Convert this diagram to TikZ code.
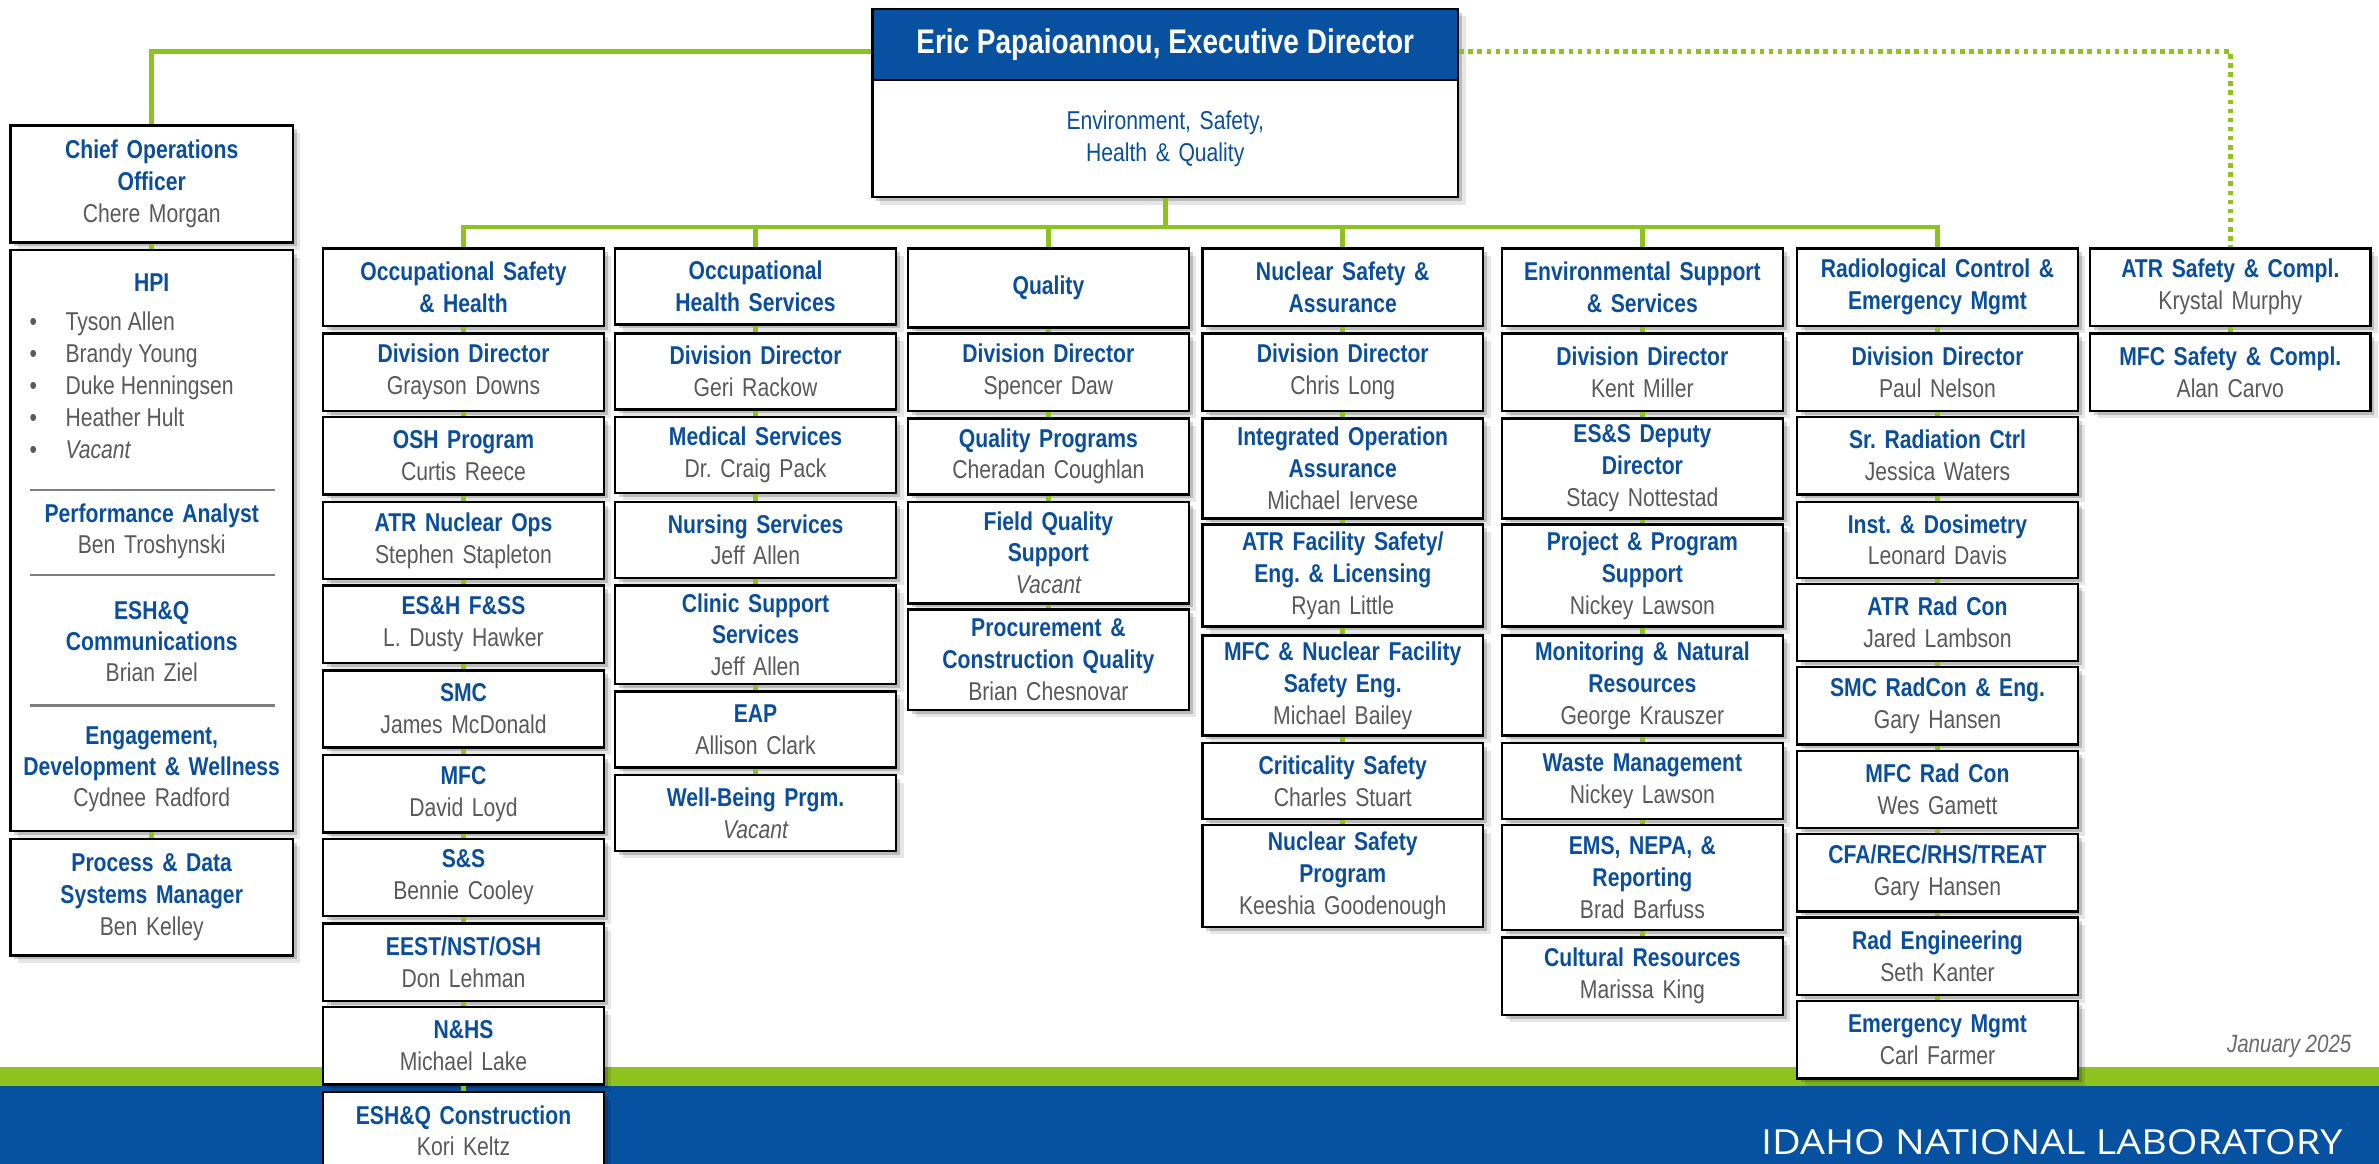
\documentclass[tikz,border=0pt]{standalone}
\usepackage{fontspec}
\setmainfont{Liberation Sans}[FakeStretch=0.82]
\newfontfamily\inlfont{Open Sans}
\usetikzlibrary{calc,shadows}
\definecolor{inlblue}{HTML}{0B4F9C}
\definecolor{hdrblue}{HTML}{0851A0}
\definecolor{ftblue}{HTML}{0752A0}
\definecolor{inlgreen}{HTML}{8DC21F}
\definecolor{txtgray}{HTML}{595959}
\definecolor{rulegray}{HTML}{7F7F7F}
\newcommand\ti[1]{{\bfseries\color{inlblue}#1}}
\newcommand\nm[1]{{\color{txtgray}#1}}
\frenchspacing
\begin{document}
\begin{tikzpicture}[x=1pt,y=-1pt,
  shadowed/.style={drop shadow={shadow xshift=5pt,shadow yshift=-5pt,opacity=.10,fill=black},
                   drop shadow={shadow xshift=2.5pt,shadow yshift=-2.5pt,opacity=.18,fill=black}},
  box/.style={draw=black,line width=1.6pt,fill=white,anchor=north,text width=181pt,
              inner xsep=2pt,inner ysep=1pt,align=center,font=\fontsize{17}{21}\selectfont\frenchspacing,shadowed},
  lbox/.style={box,text width=182pt},
  conn/.style={draw=inlgreen,line width=3pt},
  dotconn/.style={draw=inlgreen,line width=3pt,dash pattern=on 3pt off 3pt},
  hpitext/.style={inner sep=0pt,text width=182pt,align=center,font=\fontsize{17}{20.5}\selectfont},
  bullettext/.style={inner sep=0pt,font=\fontsize{17}{20.5}\selectfont,text=txtgray},
  sepline/.style={draw=rulegray,line width=1.5pt}]
\useasboundingbox (0,0) rectangle (1568,767);
\begin{scope}
\clip (0,0) rectangle (1568,767);
\fill[white] (0,0) rectangle (1568,767);
% footer
\fill[inlgreen] (0,703) rectangle (1568,716);
\fill[ftblue] (0,716) rectangle (1568,767);
\node[anchor=base east,inner sep=0pt,text=white] (inl) at (1544,761)
  {\resizebox{383pt}{16.5pt}{\inlfont IDAHO NATIONAL LABORATORY}};
\node[anchor=base east,inner sep=0pt,text=txtgray!90,font=\fontsize{16.5}{20}\selectfont\itshape] (date) at (1550,694) {January 2025};

% executive
\node[draw=black,line width=1.6pt,fill=hdrblue,anchor=north,minimum width=386pt,minimum height=47pt,
      inner sep=0pt,text=white,font=\fontsize{22.5}{26}\selectfont\bfseries,shadowed] (erich) at (768,5)
  {Eric Papaioannou, Executive Director};
\node[box,text width=382pt,minimum height=77pt] (eric) at (768,52)
  {{\color{inlblue}Environment, Safety,\\Health \& Quality}};

% left column
\node[lbox,minimum height=77pt] (coo) at (100,82) {\ti{Chief Operations\\Officer}\\\nm{Chere Morgan}};
\node[lbox,minimum height=383pt] (hpi) at (100,164) {};
\node[lbox,minimum height=77pt] (pds) at (100,552) {\ti{Process \& Data\\Systems Manager}\\\nm{Ben Kelley}};

\node[hpitext] (hpit) at (100,186) {\ti{HPI}};
\foreach \n/\yy/\t in {1/218/Tyson Allen,2/239/Brandy Young,3/260/Duke Henningsen,4/281/Heather Hult,5/302/\itshape Vacant}{
  \node[bullettext,anchor=base] (hd\n) at (22,\yy) {\textbullet};
  \node[bullettext,anchor=base west] (hb\n) at (43,\yy) {\t};
}
\draw[sepline] (20,323) -- (181,323);
\node[hpitext] (perf) at (100,350) {\ti{Performance Analyst}\\\nm{Ben Troshynski}};
\draw[sepline] (20,379) -- (181,379);
\node[hpitext] (comm) at (100,423) {\ti{ESH\&Q\\Communications}\\\nm{Brian Ziel}};
\draw[sepline] (20,465) -- (181,465);
\node[hpitext] (engd) at (100,507) {\ti{Engagement,\\Development \& Wellness}\\\nm{Cydnee Radford}};

% column 1
\node[box,minimum height=51pt] (h1) at (305.5,163) {\ti{Occupational Safety\\\& Health}};
\node[box,minimum height=51pt] (c1a) at (305.5,219) {\ti{Division Director}\\\nm{Grayson Downs}};
\node[box,minimum height=51pt] (c1b) at (305.5,274) {\ti{OSH Program}\\\nm{Curtis Reece}};
\node[box,minimum height=51pt] (c1c) at (305.5,330) {\ti{ATR Nuclear Ops}\\\nm{Stephen Stapleton}};
\node[box,minimum height=51pt] (c1d) at (305.5,385) {\ti{ES\&H F\&SS}\\\nm{L. Dusty Hawker}};
\node[box,minimum height=51pt] (c1e) at (305.5,441) {\ti{SMC}\\\nm{James McDonald}};
\node[box,minimum height=51pt] (c1f) at (305.5,497) {\ti{MFC}\\\nm{David Loyd}};
\node[box,minimum height=51pt] (c1g) at (305.5,552) {\ti{S\&S}\\\nm{Bennie Cooley}};
\node[box,minimum height=51pt] (c1h) at (305.5,608) {\ti{EEST/NST/OSH}\\\nm{Don Lehman}};
\node[box,minimum height=51pt] (c1i) at (305.5,663) {\ti{N\&HS}\\\nm{Michael Lake}};
\node[box,minimum height=51pt] (c1j) at (305.5,719) {\ti{ESH\&Q Construction}\\\nm{Kori Keltz}};

% column 2
\node[box,minimum height=50pt] (h2) at (498,163) {\ti{Occupational\\Health Services}};
\node[box,minimum height=50pt] (c2a) at (498,219) {\ti{Division Director}\\\nm{Geri Rackow}};
\node[box,minimum height=50pt] (c2b) at (498,274) {\ti{Medical Services}\\\nm{Dr. Craig Pack}};
\node[box,minimum height=50pt] (c2c) at (498,330) {\ti{Nursing Services}\\\nm{Jeff Allen}};
\node[box,minimum height=65pt] (c2d) at (498,385) {\ti{Clinic Support\\Services}\\\nm{Jeff Allen}};
\node[box,minimum height=50pt] (c2e) at (498,455) {\ti{EAP}\\\nm{Allison Clark}};
\node[box,minimum height=50pt] (c2f) at (498,510) {\ti{Well-Being Prgm.}\\\nm{\itshape Vacant}};

% column 3
\node[box,minimum height=52pt] (h3) at (691,163) {\ti{Quality}};
\node[box,minimum height=51pt] (c3a) at (691,219) {\ti{Division Director}\\\nm{Spencer Daw}};
\node[box,minimum height=50pt] (c3b) at (691,275) {\ti{Quality Programs}\\\nm{Cheradan Coughlan}};
\node[box,minimum height=67pt] (c3c) at (691,330) {\ti{Field Quality\\Support}\\\nm{\itshape Vacant}};
\node[box,minimum height=66pt] (c3d) at (691,401) {\ti{Procurement \&\\Construction Quality}\\\nm{Brian Chesnovar}};

% column 4
\node[box,minimum height=51pt] (h4) at (885,163) {\ti{Nuclear Safety \&\\Assurance}};
\node[box,minimum height=51pt] (c4a) at (885,219) {\ti{Division Director}\\\nm{Chris Long}};
\node[box,minimum height=66pt] (c4b) at (885,275) {\ti{Integrated Operation\\Assurance}\\\nm{Michael Iervese}};
\node[box,minimum height=67pt] (c4c) at (885,345) {\ti{ATR Facility Safety/\\Eng. \& Licensing}\\\nm{Ryan Little}};
\node[box,minimum height=66pt] (c4d) at (885,418) {\ti{MFC \& Nuclear Facility\\Safety Eng.}\\\nm{Michael Bailey}};
\node[box,minimum height=50pt] (c4e) at (885,489) {\ti{Criticality Safety}\\\nm{Charles Stuart}};
\node[box,minimum height=67pt] (c4f) at (885,543) {\ti{Nuclear Safety\\Program}\\\nm{Keeshia Goodenough}};

% column 5
\node[box,minimum height=51pt] (h5) at (1082.5,163) {\ti{Environmental Support\\\& Services}};
\node[box,minimum height=51pt] (c5a) at (1082.5,219) {\ti{Division Director}\\\nm{Kent Miller}};
\node[box,minimum height=66pt] (c5b) at (1082.5,275) {\ti{ES\&S Deputy\\Director}\\\nm{Stacy Nottestad}};
\node[box,minimum height=67pt] (c5c) at (1082.5,345) {\ti{Project \& Program\\Support}\\\nm{Nickey Lawson}};
\node[box,minimum height=66pt] (c5d) at (1082.5,418) {\ti{Monitoring \& Natural\\Resources}\\\nm{George Krauszer}};
\node[box,minimum height=50pt] (c5e) at (1082.5,489) {\ti{Waste Management}\\\nm{Nickey Lawson}};
\node[box,minimum height=69pt] (c5f) at (1082.5,543) {\ti{EMS, NEPA, \&\\Reporting}\\\nm{Brad Barfuss}};
\node[box,minimum height=51pt] (c5g) at (1082.5,617) {\ti{Cultural Resources}\\\nm{Marissa King}};

% column 6
\node[box,minimum height=51pt] (h6) at (1277,163) {\ti{Radiological Control \&\\Emergency Mgmt}};
\node[box,minimum height=51pt] (c6a) at (1277,219) {\ti{Division Director}\\\nm{Paul Nelson}};
\node[box,minimum height=51pt] (c6b) at (1277,274) {\ti{Sr. Radiation Ctrl}\\\nm{Jessica Waters}};
\node[box,minimum height=50pt] (c6c) at (1277,330) {\ti{Inst. \& Dosimetry}\\\nm{Leonard Davis}};
\node[box,minimum height=51pt] (c6d) at (1277,384) {\ti{ATR Rad Con}\\\nm{Jared Lambson}};
\node[box,minimum height=51pt] (c6e) at (1277,439) {\ti{SMC RadCon \& Eng.}\\\nm{Gary Hansen}};
\node[box,minimum height=51pt] (c6f) at (1277,494) {\ti{MFC Rad Con}\\\nm{Wes Gamett}};
\node[box,minimum height=51pt] (c6g) at (1277,549) {\ti{CFA/REC/RHS/TREAT}\\\nm{Gary Hansen}};
\node[box,minimum height=51pt] (c6h) at (1277,604) {\ti{Rad Engineering}\\\nm{Seth Kanter}};
\node[box,minimum height=51pt] (c6i) at (1277,659) {\ti{Emergency Mgmt}\\\nm{Carl Farmer}};

% column 7
\node[box,minimum height=51pt] (h7) at (1470,163) {\ti{ATR Safety \& Compl.}\\\nm{Krystal Murphy}};
\node[box,minimum height=51pt] (c7a) at (1470,219) {\ti{MFC Safety \& Compl.}\\\nm{Alan Carvo}};

% connectors
\coordinate (bus) at ($(eric.south)+(0,19)$);
\draw[conn] (eric.south) -- (bus);
\foreach \h in {h1,h2,h3,h4,h5,h6}{\draw[conn] (bus) -| (\h.north);}
\draw[conn] ($(erich.west)+(0,4.5)$) -| (coo.north);
\draw[dotconn] ($(erich.east)+(0,4.5)$) -| (h7.north);
\foreach \a/\b in {coo/hpi,hpi/pds,
  h1/c1a,c1a/c1b,c1b/c1c,c1c/c1d,c1d/c1e,c1e/c1f,c1f/c1g,c1g/c1h,c1h/c1i,c1i/c1j,
  h2/c2a,c2a/c2b,c2b/c2c,c2c/c2d,c2d/c2e,c2e/c2f,
  h3/c3a,c3a/c3b,c3b/c3c,c3c/c3d,
  h4/c4a,c4a/c4b,c4b/c4c,c4c/c4d,c4d/c4e,c4e/c4f,
  h5/c5a,c5a/c5b,c5b/c5c,c5c/c5d,c5d/c5e,c5e/c5f,c5f/c5g,
  h6/c6a,c6a/c6b,c6b/c6c,c6c/c6d,c6d/c6e,c6e/c6f,c6f/c6g,c6g/c6h,c6h/c6i,
  h7/c7a}{
  \draw[conn] (\a.south) -- (\b.north);
}
\end{scope}
\end{tikzpicture}
\end{document}
